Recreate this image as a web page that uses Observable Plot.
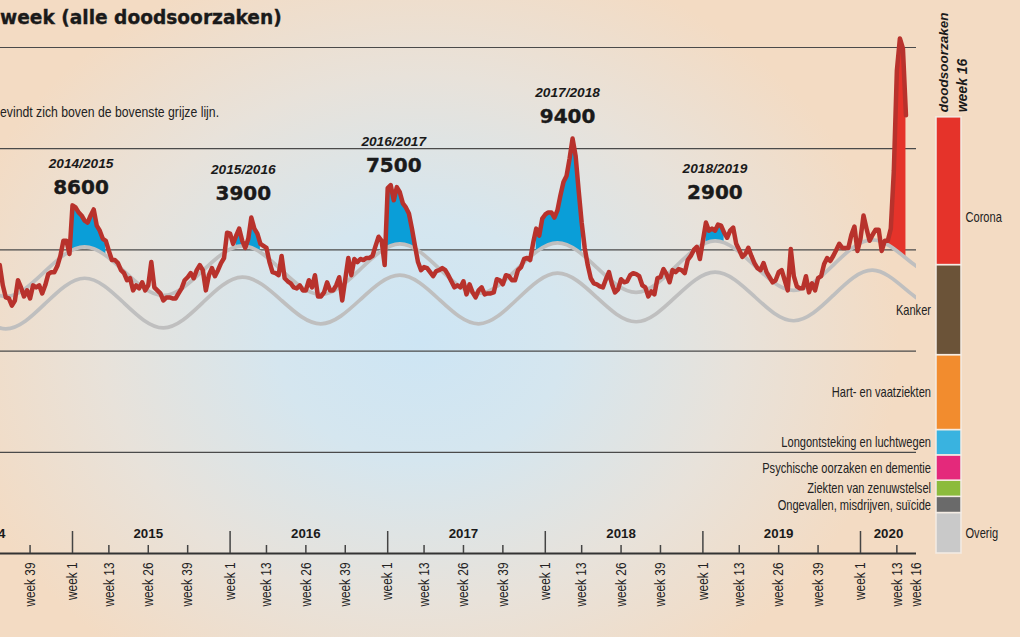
<!DOCTYPE html>
<html>
<head>
<meta charset="utf-8">
<script src="https://cdn.jsdelivr.net/npm/d3@7"></script>
<script src="https://cdn.jsdelivr.net/npm/@observablehq/plot@0.6"></script>
<style>
html, body { margin: 0; padding: 0; }
body {
  width: 1020px; height: 637px; overflow: hidden; position: relative;
  background: radial-gradient(ellipse 480px 400px at 420px 340px, #cde5f4 0%, #d5e6ef 30%, #e8e2da 66%, #f3dbc3 100%);
}
#chart, #bar { position: absolute; left: 0; top: 0; }
.title { position: absolute; left: 0; top: 8.5px; font: bold 18.6px "DejaVu Sans", sans-serif; line-height: 1; white-space: nowrap; color: #1a1a1a; -webkit-text-stroke: 0.35px #1a1a1a; }
.sub { position: absolute; left: 0; top: 104px; font: 15.3px "Liberation Sans", Arial, sans-serif; line-height: 1; white-space: nowrap; color: #222; transform: scaleX(0.8); transform-origin: 0 0; }
</style>
</head>
<body>
<div id="chart"></div>
<div id="bar"></div>
<div class="title">week (alle doodsoorzaken)</div>
<div class="sub">evindt zich boven de bovenste grijze lijn.</div>
<script>
// ---------------- DATA ----------------
// weekly deaths, all causes, from 2014 week 29 up to 2020 week 16
const firstWeek = [2014, 29];
const weeklyDeaths = [
  2850,2650,2530,2520,2450,2500,2700,2630,2540,2600,2520,2650,2630,2650,2570,2650,2760,2780,2780,2840,2940,3090,3090,2960,
  3440,3420,3370,3340,3290,3270,3340,3400,3240,3190,3110,3090,2990,2900,2900,2870,2800,2770,2700,2720,2600,2650,2620,2680,2600,2650,2880,2630,
  2600,2570,2500,2530,2530,2520,2520,2570,2620,2700,2730,2770,2720,2800,2850,2800,2600,2750,2820,2740,2800,2870,2920,3170,
  3160,3060,3140,3210,3090,3020,3110,3320,3210,3160,3060,3040,3020,2880,2780,2770,2750,2940,2720,2690,2670,2630,2620,2650,2600,2600,2700,2630,
  2750,2540,2540,2580,2680,2600,2600,2650,2730,2500,2710,2920,2750,2910,2880,2910,2900,2920,2920,2940,3040,3130,3090,2850,
  3610,3640,3490,3620,3570,3460,3420,3360,3210,3040,2880,2800,2830,2820,2780,2740,2790,2800,2820,2800,2750,2690,2630,2650,2630,2690,2560,2660,
  2580,2530,2600,2630,2560,2570,2570,2580,2710,2700,2660,2750,2740,2700,2700,2800,2830,2910,2920,2900,3070,3210,3140,3310,
  3350,3370,3370,3320,3390,3540,3670,3730,3900,4100,3930,3590,3270,3020,2850,2720,2670,2660,2640,2630,2710,2780,2660,2580,2610,2710,2680,2690,
  2750,2770,2760,2740,2650,2630,2540,2590,2560,2720,2730,2810,2760,2680,2800,2780,2810,2800,2770,2900,2940,3000,3030,2910,
  3090,3270,3190,3210,3190,3250,3240,3170,3120,3190,3220,3060,3000,2930,2960,3020,2940,2870,2820,2800,2870,2780,2730,2680,2700,2780,2800,2700,
  2600,3010,2740,2640,2620,2620,2740,2580,2670,2600,2720,2740,2860,2920,2890,2940,3000,3060,3020,3020,3020,3150,3230,2990,
  3110,3340,3210,3090,3150,3200,3200,2990,3090,3090,3210,3780,4770,5090,4990,4330
];

// expected band (grey lines), read every 13 weeks
const bandSamples = [
  [2014,18],[2014,31],[2014,44],
  [2015,5],[2015,18],[2015,31],[2015,44],
  [2016,5],[2016,18],[2016,31],[2016,44],
  [2017,5],[2017,18],[2017,31],[2017,44],
  [2018,5],[2018,18],[2018,31],[2018,44],
  [2019,5],[2019,18],[2019,31],[2019,44],
  [2020,5],[2020,18],[2020,31]
];
const upperBand = [2790,2540,2790, 3030,2790,2550,2795, 3040,2800,2560,2810, 3060,2815,2570,2820, 3070,2825,2580,2835, 3090,2845,2600,2850, 3100,2870,2620];
const lowerBand = [2470,2220,2470, 2720,2475,2230,2480, 2730,2500,2270,2510, 2750,2510,2270,2520, 2770,2530,2290,2535, 2780,2540,2300,2550, 2800,2560,2310];

// flu seasons with excess deaths
const seasonNames  = ["2014/2015", "2015/2016", "2016/2017", "2017/2018", "2018/2019"];
const excessDeaths = [8600, 3900, 7500, 9400, 2900];
const seasonFrom   = [[2015,1], [2016,3], [2017,1], [2017,50], [2019,2]];
const seasonTo     = [[2015,12], [2016,11], [2017,10], [2018,13], [2019,8]];
const coronaFrom = [2020,10], coronaTo = [2020,16];

// axis
const gridValues = [1000, 2000, 3000, 4000, 5000];
const axisYears = [2014, 2015, 2016, 2017, 2018, 2019, 2020];
const axisWeeks = [1, 13, 26, 39];
const lastWeekLabel = "week 16";

// causes of death, week 16 (top to bottom)
const causes = ["Corona", "Kanker", "Hart- en vaatziekten", "Longontsteking en luchtwegen",
  "Psychische oorzaken en dementie", "Ziekten van zenuwstelsel", "Ongevallen, misdrijven, suïcide", "Overig"];
const causeDeaths = [1460, 890, 740, 250, 250, 160, 160, 400];

// ---------------- STYLE / LAYOUT ----------------
const causeColors = ["#e5332a", "#6b5338", "#f28c2e", "#39b3e0", "#e4297b", "#8cbb3c", "#6a6a6a", "#c9c9c9"];
const rightLabels = ["Corona", "Overig"];
const narrow = '"Liberation Sans", Arial, sans-serif, "x-narrow"';   // condensed after render
const sans = '"Liberation Sans", Arial, sans-serif';
const seasonNudge = [[8.5, -18], [-8, -24], [3, -20], [-5, -21.5], [9, -29.5]]; // dx, dy (px) from peak
const W = 1020, H = 637, MT = 47, MB = 84, MR = 104;

// ---------------- DERIVED ----------------
const wk = (y, w) => (y - 2014) * 52 + (w - 1);
const t0 = wk(...firstWeek);
const rows = weeklyDeaths.map((v, i) => ({t: t0 + i, value: v}));
const valueAt = new Map(rows.map(d => [d.t, d.value]));
const bandRows = bandSamples.map(([y, w], i) => ({t: wk(y, w), upper: upperBand[i], lower: lowerBand[i]}));

function naturalSpline(ys) {
  const n = ys.length, M = new Float64Array(n), cp = new Float64Array(n), dp = new Float64Array(n);
  for (let i = 1; i < n - 1; i++) {
    const rhs = 6 * (ys[i + 1] - 2 * ys[i] + ys[i - 1]);
    const den = 4 - cp[i - 1];
    cp[i] = 1 / den;
    dp[i] = (rhs - dp[i - 1]) / den;
  }
  for (let i = n - 2; i >= 1; i--) M[i] = dp[i] - cp[i] * M[i + 1];
  return s => {
    const i = Math.max(0, Math.min(n - 2, Math.floor(s))), u = s - i;
    return (1 - u) * ys[i] + u * ys[i + 1] + (((1 - u) ** 3 - (1 - u)) * M[i] + (u ** 3 - u) * M[i + 1]) / 6;
  };
}
const upperSpline = naturalSpline(upperBand);
const bandStep = bandRows[1].t - bandRows[0].t;
const upperAt = t => upperSpline((t - bandRows[0].t) / bandStep);

function windowRows(from, to, key) {
  const a = wk(...from), b = wk(...to), out = [];
  const prev = valueAt.get(a - 1), d0 = prev - upperAt(a - 1), d1 = valueAt.get(a) - upperAt(a);
  if (prev !== undefined && d0 < 0 && d1 > 0) { const tc = a - 1 + d0 / (d0 - d1); out.push({season: key, t: tc, band: upperAt(tc), top: upperAt(tc)}); }
  for (let t = a; t <= b; t++) { const bd = upperAt(t); out.push({season: key, t, band: bd, top: Math.max(bd, valueAt.get(t))}); }
  const next = valueAt.get(b + 1);
  if (next !== undefined) {
    const e0 = valueAt.get(b) - upperAt(b), e1 = next - upperAt(b + 1);
    if (e0 > 0 && e1 < 0) { const tc = b + e0 / (e0 - e1); out.push({season: key, t: tc, band: upperAt(tc), top: upperAt(tc)}); }
  }
  return out;
}
const blueRows = seasonNames.flatMap((s, i) => windowRows(seasonFrom[i], seasonTo[i], s));
const redRows = windowRows(coronaFrom, coronaTo, "corona");

const xDomain = [wk(2014, 29.244), wk(2020, 19.48)];
const yearTicks = axisYears.map(y => wk(y, 1)).filter(t => t >= xDomain[0]);
const weekTickRows = axisYears.flatMap(y => axisWeeks.filter(w => w !== 1).map(w => wk(y, w)))
  .filter(t => t >= xDomain[0] && t <= wk(2020, 16));
const weekLabelRows = axisYears.flatMap(y => axisWeeks.map(w => ({t: wk(y, w), label: "week " + w})))
  .filter(d => d.t >= xDomain[0] && d.t <= wk(2020, 16));
weekLabelRows.push({t: xDomain[1], label: lastWeekLabel});
const yearLabelRows = axisYears.map(y => ({label: String(y), t: y < 2020 ? wk(y, 26) : (wk(y, 1) + xDomain[1]) / 2}));

const seasonMarks = seasonNames.flatMap((name, i) => {
  const a = wk(...seasonFrom[i]), b = wk(...seasonTo[i]);
  const win = rows.filter(d => d.t >= a && d.t <= b);
  const peak = win.reduce((m, d) => d.value > m.value ? d : m, win[0]);
  const [dx, dy] = seasonNudge[i];
  const row = [{t: peak.t, v: peak.value, name, n: String(excessDeaths[i])}];
  return [
    Plot.text(row, {x: "t", y: "v", text: "name", dx, dy: dy - 24, fontSize: 13.7, fontWeight: "bold", fontStyle: "italic", fontFamily: sans, fill: "#1a1a1a"}),
    Plot.text(row, {x: "t", y: "v", text: "n", dx, dy, fontSize: 20, fontWeight: "bold", fontFamily: '"DejaVu Sans", sans-serif', fill: "#1a1a1a", stroke: "#1a1a1a", strokeWidth: 0.4})
  ];
});

const chart = Plot.plot({
  width: W, height: H, marginTop: MT, marginBottom: MB, marginLeft: 0, marginRight: MR,
  style: {background: "none", overflow: "visible"},
  x: {domain: xDomain, axis: null},
  y: {domain: [0, 5000], axis: null},
  marks: [
    Plot.ruleY(gridValues, {stroke: "#4a4a4a", strokeWidth: 1.2}),
    Plot.areaY(blueRows, {x: "t", y1: "band", y2: "top", z: "season", fill: "#0a9ed8"}),
    Plot.areaY(redRows, {x: "t", y1: "band", y2: "top", z: "season", fill: "#e5332a"}),
    Plot.line(bandRows, {x: "t", y: "upper", curve: "natural", stroke: "#bfbfbf", strokeWidth: 3.7, clip: true}),
    Plot.line(bandRows, {x: "t", y: "lower", curve: "natural", stroke: "#bfbfbf", strokeWidth: 3.7, clip: true}),
    Plot.line(rows, {x: "t", y: "value", stroke: "#b8322c", strokeWidth: 4.5, strokeLinejoin: "round", strokeLinecap: "round"}),
    Plot.ruleY([0], {stroke: "#333", strokeWidth: 2}),
    Plot.ruleX(yearTicks, {x: d => d, y1: 0, y2: 0, insetBottom: 22, stroke: "#444", strokeWidth: 1.5}),
    Plot.ruleX(weekTickRows, {x: d => d, y1: 0, y2: 0, insetBottom: 8, stroke: "#444", strokeWidth: 1.5}),
    Plot.text(weekLabelRows, {x: "t", y: 0, text: "label", rotate: -90, textAnchor: "end", lineAnchor: "middle", dy: 9, fontSize: 14.8, fontFamily: narrow, fill: "#222"}),
    Plot.text(yearLabelRows, {x: "t", y: 0, text: "label", dy: -20, fontSize: 13.3, fontWeight: "bold", fontFamily: sans, fill: "#1a1a1a"}),
    ...seasonMarks
  ]
});
document.getElementById("chart").append(chart);

// ---------- stacked bar of causes, week 16 ----------
const barKey = lastWeekLabel;
let acc = 0;
const stackRows = causes.map((c, i) => ({cause: c, value: causeDeaths[i]})).reverse()
  .map(d => { const r = {...d, y1: acc, y2: acc + d.value, mid: acc + d.value / 2}; acc += d.value; return r; });
const total = acc;
const leftRows = stackRows.filter(d => !rightLabels.includes(d.cause));
const bar = Plot.plot({
  width: W, height: H, marginTop: MT, marginBottom: MB, marginLeft: 936, marginRight: 59,
  style: {background: "none", overflow: "visible"},
  x: {type: "band", domain: [barKey], padding: 0, axis: null},
  y: {domain: [0, 5000], axis: null},
  color: {domain: causes, range: causeColors},
  marks: [
    Plot.barY(stackRows, {x: () => barKey, y1: "y1", y2: "y2", fill: "cause", stroke: "#f4ece4", strokeWidth: 1.5}),
    Plot.text(leftRows, {x: () => barKey, y: "mid", text: "cause", textAnchor: "end", dx: -18, fontSize: 14.3, fontFamily: narrow, fill: "#222"}),
    Plot.text(stackRows.filter(d => d.cause === "Corona"), {x: () => barKey, y: "mid", text: "cause", textAnchor: "start", dx: 16.5, dy: 26, fontSize: 14.3, fontFamily: narrow, fill: "#222"}),
    Plot.text(stackRows.filter(d => d.cause === "Overig"), {x: () => barKey, y: "mid", text: "cause", textAnchor: "start", dx: 16.5, fontSize: 14.3, fontFamily: narrow, fill: "#222"}),
    Plot.text(["doodsoorzaken"], {x: () => barKey, y: () => total, text: d => d, rotate: -90, textAnchor: "start", dy: -5, dx: -5.5, fontSize: 13.5, fontWeight: "bold", fontStyle: "italic", fontFamily: sans, fill: "#1a1a1a"}),
    Plot.text(["week 16"], {x: () => barKey, y: () => total, text: d => d, rotate: -90, textAnchor: "start", dy: -5, dx: 13.5, fontSize: 14, fontWeight: "bold", fontStyle: "italic", fontFamily: sans, fill: "#1a1a1a"})
  ]
});
document.getElementById("bar").append(bar);

// condense the "narrow" texts (no condensed font installed)
function condense(svg, k) {
  svg.querySelectorAll("g[font-family]").forEach(g => {
    if (!g.getAttribute("font-family").includes("x-narrow")) return;
    g.querySelectorAll("text").forEach(t => {
      const L = t.getComputedTextLength();
      if (L > 0) { t.setAttribute("textLength", (L * k).toFixed(2)); t.setAttribute("lengthAdjust", "spacingAndGlyphs"); }
    });
  });
}
condense(chart, 0.8);
condense(bar, 0.775);
</script>
</body>
</html>
